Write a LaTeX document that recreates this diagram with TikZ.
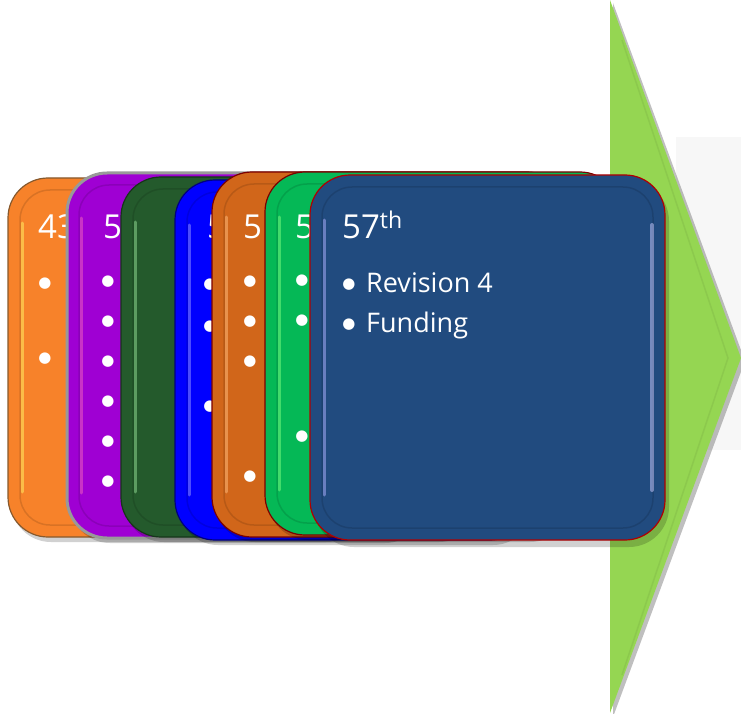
\documentclass[tikz,border=0pt]{standalone}
\usepackage{fontspec}
\setmainfont{Open Sans}
\newfontfamily\dotfont{DejaVu Sans}
\usepackage{tikz}
\usepackage{xcolor}
\usetikzlibrary{positioning}

\definecolor{orangeA}{HTML}{F7822A}
\definecolor{purpleB}{HTML}{9F00D3}
\definecolor{greenC}{HTML}{245A2C}
\definecolor{blueD}{HTML}{0000FF}
\definecolor{orangeE}{HTML}{D1661A}
\definecolor{greenF}{HTML}{05B856}
\definecolor{navyG}{HTML}{214B7F}
\definecolor{arrowgreen}{HTML}{95D652}
\definecolor{redline}{HTML}{B00000}

\begin{document}
\begin{tikzpicture}[x=1pt, y=-1pt]
            \tikzstyle{every node}+=[inner sep=0pt, text=white]
            \tikzstyle{card}=[rounded corners=40pt, line width=1.2pt]
            \tikzstyle{bevel}=[rounded corners=30pt, line width=1.5pt, draw=black, opacity=0.12]
            \tikzstyle{shade}=[rounded corners=40pt, fill=black, opacity=0.18]
            \tikzstyle{glint}=[line width=3pt, opacity=0.5, line cap=round]
            \tikzstyle{ttl}=[anchor=base west, font=\fontsize{33}{36}\selectfont]
            \tikzstyle{bul}=[anchor=base, yshift=4pt, font=\dotfont\fontsize{15}{16}\selectfont]
            \tikzstyle{txt}=[anchor=base west, font=\fontsize{27}{30}\selectfont]
            \useasboundingbox (0,0) rectangle (741,714);
            % arrow behind the cards
            \fill [black!3] (676,137) rectangle (741,450);
            \fill [black, opacity=0.25] (613,3) -- (745,361) -- (613,717) -- cycle;
            \fill [arrowgreen] (610,0) -- (741,358) -- (610,713) -- cycle;
            \draw [black!6!arrowgreen, line width=1.5pt] (622,40) -- (728,358) -- (622,675);
            % card 43
            \fill [shade] (11,183) rectangle (366,542);
            \draw [card, fill=orangeA, draw=brown!70!black] (8,178) rectangle (363,537);
            \draw [bevel] (20,190) rectangle (351,525);
            \draw [glint, yellow!60!white] (22,223) -- (22,492);
            \node [ttl] (t1) at (38,238) {43};
            \node [bul] (b11) at (45,291) {●};
            \node [bul] (b12) at (45,366) {●};
            % card 2
            \fill [shade] (70,178) rectangle (425,543);
            \draw [card, fill=purpleB, draw=black!40, line width=3pt] (67,173) rectangle (422,538);
            \draw [bevel] (79,185) rectangle (410,526);
            \draw [glint, magenta!60!white] (81,218) -- (81,493);
            \node [ttl] (t2) at (103,238) {5};
            \node [bul] (b21) at (108,289) {●};
            \node [bul] (b22) at (108,329) {●};
            \node [bul] (b23) at (108,369) {●};
            \node [bul] (b24) at (108,409) {●};
            \node [bul] (b25) at (108,449) {●};
            \node [bul] (b26) at (108,489) {●};
            % card 3
            \fill [shade] (124,182) rectangle (479,542);
            \draw [card, fill=greenC, draw=greenC!60!black] (121,177) rectangle (476,537);
            \draw [bevel] (133,189) rectangle (464,525);
            \draw [glint, green!30!white, opacity=0.4] (135,222) -- (135,492);
            % card 4
            \fill [shade] (178,185) rectangle (533,545);
            \draw [card, fill=blueD, draw=blueD!50!black] (175,180) rectangle (530,540);
            \draw [bevel] (187,192) rectangle (518,528);
            \draw [glint, blue!40!white] (189,225) -- (189,495);
            \node [ttl] (t4) at (207,238) {5};
            \node [bul] (b41) at (210,292) {●};
            \node [bul] (b42) at (210,334) {●};
            \node [bul] (b43) at (210,414) {●};
            % card 5
            \fill [shade] (215,177) rectangle (570,542);
            \draw [card, fill=orangeE, draw=redline!70!black] (212,172) rectangle (567,537);
            \draw [bevel] (224,184) rectangle (555,525);
            \draw [glint, orange!50!white] (226,217) -- (226,492);
            \node [ttl] (t5) at (243,238) {5};
            \node [bul] (b51) at (250,289) {●};
            \node [bul] (b52) at (250,329) {●};
            \node [bul] (b53) at (250,369) {●};
            \node [bul] (b54) at (250,484) {●};
            % card 6
            \fill [shade] (268,177) rectangle (623,540);
            \draw [card, fill=greenF, draw=redline!70!black] (265,172) rectangle (620,535);
            \draw [bevel] (277,184) rectangle (608,523);
            \draw [glint, green!50!white] (279,217) -- (279,490);
            \node [ttl] (t6) at (295,238) {5};
            \node [bul] (b61) at (302,288) {●};
            \node [bul] (b62) at (302,328) {●};
            \node [bul] (b63) at (302,444) {●};
            % card 57th
            \fill [shade] (314,181) rectangle (669,547);
            \draw [card, fill=navyG, draw=redline] (310,175) rectangle (665,540);
            \draw [bevel] (322,187) rectangle (653,528);
            \draw [glint, blue!30!white] (324,220) -- (324,495);
            \draw [glint, blue!20!white, line width=4pt] (652,225) -- (652,490);
            \node [ttl] (t7) at (342,238) {57\textsuperscript{th}};
            \node [bul] (b71) at (349,292) {●};
            \node [txt] (r71) at (366,292) {Revision 4};
            \node [bul] (b72) at (349,332) {●};
            \node [txt] (r72) at (366,332) {Funding};
        \end{tikzpicture}
\end{document}
